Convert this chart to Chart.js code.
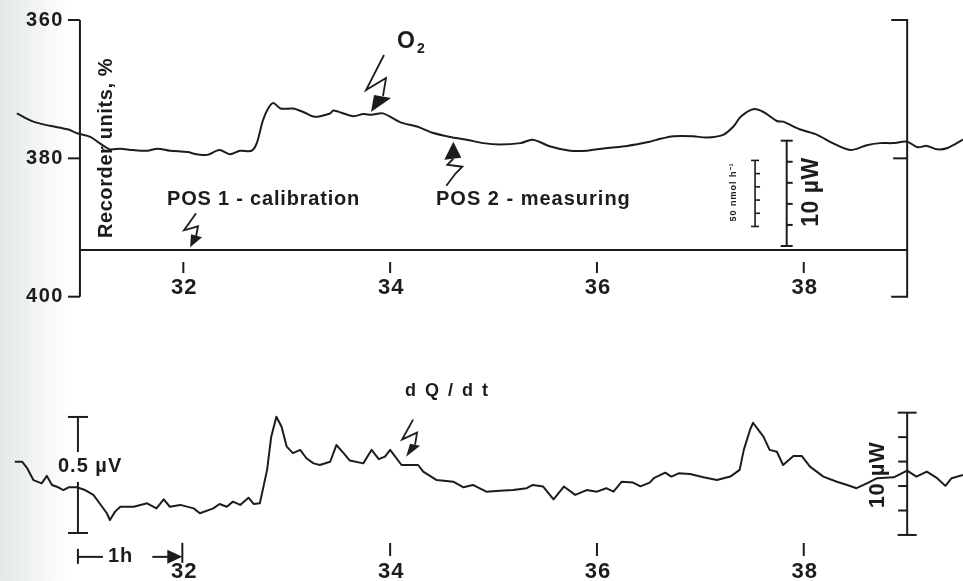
<!DOCTYPE html>
<html>
<head>
<meta charset="utf-8">
<script src="https://cdn.jsdelivr.net/npm/chart.js@4.4.0/dist/chart.umd.min.js"></script>
<style>
  html, body { margin: 0; padding: 0; background: #fff; }
  #wrap {
    position: relative; width: 963px; height: 581px;
    background: linear-gradient(to right, #e2e8e4 0px, #edf1ee 25px, #f8f9f8 52px, #ffffff 75px);
  }
  canvas { display: block; }
</style>
</head>
<body>
<div id="wrap"><canvas id="trace" width="963" height="581"></canvas></div>
<script>
// time axis (h)
const xTicks = [32, 34, 36, 38];
const xTickLabels = ['32', '34', '36', '38'];
// recorder axis of the O2 trace
const recorderTicks = [360, 380, 400];
const recorderTickLabels = ['360', '380', '400'];

// upper trace: O2, recorder units %
const o2Time = [30.39, 30.55, 30.71, 30.88, 30.98, 31.10, 31.19, 31.29, 31.39, 31.51,
  31.65, 31.75, 31.87, 32.04, 32.13, 32.23, 32.35, 32.45, 32.55, 32.66,
  32.71, 32.77, 32.82, 32.87, 32.94, 33.06, 33.16, 33.27, 33.42, 33.45,
  33.64, 33.74, 33.82, 33.93, 34.10, 34.26, 34.41, 34.58, 34.74, 34.90,
  35.06, 35.26, 35.38, 35.55, 35.74, 35.90, 36.10, 36.29, 36.51, 36.58,
  36.74, 36.93, 37.06, 37.22, 37.32, 37.39, 37.51, 37.61, 37.74, 37.80,
  37.96, 38.13, 38.28, 38.45, 38.61, 38.74, 38.86, 39.00, 39.10, 39.19,
  39.29, 39.39, 39.54];
const o2Units = [373.5, 374.7, 375.3, 375.8, 376.4, 376.9, 377.8, 378.7, 378.6, 378.8,
  378.9, 378.6, 378.9, 379.1, 379.4, 379.5, 378.8, 379.4, 378.9, 378.9,
  377.8, 374.5, 372.8, 372.0, 372.8, 372.8, 373.3, 374.0, 373.5, 373.1,
  373.9, 373.6, 373.7, 373.5, 374.8, 375.4, 376.3, 376.9, 377.3, 377.8,
  378.0, 377.8, 377.3, 378.3, 378.9, 378.9, 378.5, 378.2, 377.6, 377.3,
  376.8, 376.8, 377.0, 376.6, 375.4, 374.0, 372.9, 373.3, 374.6, 374.7,
  375.8, 376.6, 377.8, 378.8, 378.1, 377.8, 377.8, 377.6, 378.4, 378.2,
  378.7, 378.5, 377.3];

// lower trace: dQ/dt, µV
const heatTime = [30.37, 30.44, 30.49, 30.55, 30.63, 30.68, 30.73, 30.79, 30.84, 30.89,
  30.97, 31.05, 31.13, 31.19, 31.26, 31.29, 31.34, 31.39, 31.52, 31.65,
  31.74, 31.81, 31.87, 31.97, 32.10, 32.16, 32.29, 32.35, 32.42, 32.48,
  32.55, 32.63, 32.68, 32.74, 32.81, 32.85, 32.90, 32.95, 33.00, 33.06,
  33.13, 33.19, 33.26, 33.32, 33.42, 33.48, 33.55, 33.61, 33.74, 33.82,
  33.89, 33.95, 34.00, 34.11, 34.27, 34.32, 34.45, 34.61, 34.71, 34.80,
  34.93, 35.06, 35.19, 35.32, 35.38, 35.48, 35.58, 35.68, 35.79, 35.90,
  36.00, 36.09, 36.16, 36.24, 36.35, 36.42, 36.51, 36.55, 36.66, 36.72,
  36.79, 36.90, 37.03, 37.16, 37.29, 37.38, 37.42, 37.48, 37.51, 37.55,
  37.61, 37.67, 37.74, 37.80, 37.90, 37.98, 38.06, 38.19, 38.32, 38.42,
  38.51, 38.61, 38.71, 38.87, 39.00, 39.09, 39.19, 39.29, 39.37, 39.43,
  39.54];
const heatVolts = [0.307, 0.307, 0.279, 0.228, 0.214, 0.246, 0.207, 0.197, 0.185, 0.197,
  0.197, 0.185, 0.164, 0.128, 0.085, 0.056, 0.092, 0.113, 0.113, 0.128,
  0.106, 0.145, 0.113, 0.121, 0.106, 0.085, 0.106, 0.125, 0.113, 0.135,
  0.121, 0.152, 0.125, 0.128, 0.272, 0.415, 0.501, 0.458, 0.372, 0.344,
  0.358, 0.322, 0.300, 0.293, 0.307, 0.379, 0.344, 0.312, 0.300, 0.358,
  0.318, 0.329, 0.358, 0.293, 0.293, 0.264, 0.228, 0.221, 0.197, 0.207,
  0.178, 0.182, 0.185, 0.193, 0.207, 0.200, 0.145, 0.200, 0.164, 0.185,
  0.178, 0.193, 0.178, 0.221, 0.217, 0.201, 0.217, 0.236, 0.260, 0.243,
  0.257, 0.254, 0.240, 0.228, 0.243, 0.272, 0.358, 0.444, 0.475, 0.451,
  0.415, 0.358, 0.350, 0.293, 0.332, 0.332, 0.286, 0.243, 0.221, 0.207,
  0.193, 0.214, 0.236, 0.240, 0.269, 0.243, 0.264, 0.236, 0.203, 0.236,
  0.250];

const ink = '#1c1c1c';
const FONT = '"Liberation Sans", Arial, sans-serif';

// draws the frame, ticks, scale bars and the arrow marks
const recorderFrame = {
  id: 'recorderFrame',
  afterDatasetsDraw(chart) {
    const {ctx, scales: {x, yTop, yBot}} = chart;
    const X = t => x.getPixelForValue(t);
    const T = u => yTop.getPixelForValue(u);
    const B = v => yBot.getPixelForValue(v);

    ctx.save();
    ctx.strokeStyle = ink;
    ctx.fillStyle = ink;
    ctx.lineWidth = 2;

    const line = pts => {
      ctx.beginPath();
      pts.forEach(([a, b], i) => i ? ctx.lineTo(a, b) : ctx.moveTo(a, b));
      ctx.stroke();
    };
    const text = (s, px, py, size, align, spacing) => {
      ctx.font = 'bold ' + size + 'px ' + FONT;
      ctx.letterSpacing = spacing || '0px';
      ctx.textAlign = align || 'center';
      ctx.textBaseline = 'middle';
      ctx.fillText(s, px, py);
    };
    const vtext = (s, cx, cy, size, spacing) => {
      ctx.save();
      ctx.translate(cx, cy);
      ctx.rotate(-Math.PI / 2);
      ctx.font = 'bold ' + size + 'px ' + FONT;
      ctx.letterSpacing = spacing || '0px';
      ctx.textAlign = 'center';
      ctx.textBaseline = 'middle';
      ctx.fillText(s, 0, 0);
      ctx.restore();
    };
    const bolt = (tx, ty, path, head) => {
      ctx.lineWidth = 1.8;
      line(path.map(([dx, dy]) => [tx + dx, ty + dy]));
      ctx.beginPath();
      ctx.moveTo(tx, ty);
      ctx.lineTo(tx + head[0][0], ty + head[0][1]);
      ctx.lineTo(tx + head[1][0], ty + head[1][1]);
      ctx.closePath();
      ctx.fill();
      ctx.lineWidth = 2;
    };
    // vertical scale bar with evenly spaced marks
    const scaleBar = (bx, top, bottom, cap, tick, side) => {
      line([[bx, top], [bx, bottom]]);
      line([[bx - cap, top], [bx + cap, top]]);
      line([[bx - cap, bottom], [bx + cap, bottom]]);
      for (let k = 1; k < 5; k++) {
        const yy = top + (bottom - top) * k / 5;
        line([[bx, yy], [bx + side * tick, yy]]);
      }
    };

    // ---- upper panel ----
    const xL = X(31), xR = X(39);
    line([[xL, T(360)], [xL, T(400)]]);
    recorderTicks.forEach((u, i) => {
      line([[xL - 12, T(u)], [xL, T(u)]]);
      text(recorderTickLabels[i], xL - 16, T(u), 20, 'right', '1.5px');
    });
    line([[xR - 16, T(360)], [xR, T(360)], [xR, T(400)], [xR - 16, T(400)]]);
    line([[xR - 14, T(380)], [xR, T(380)]]);

    const yBase = T(393.25);
    line([[xL, yBase], [xR, yBase]]);
    xTicks.forEach((t, i) => {
      line([[X(t), yBase + 12], [X(t), yBase + 23]]);
      text(xTickLabels[i], X(t) + 1, yBase + 38, 22, 'center', '1px');
    });

    vtext('Recorder units, %', 106, 148, 20, '0.6px');
    text('POS 1 - calibration', 167, 199, 20, 'left', '0.8px');
    text('POS 2 - measuring', 436, 199, 20, 'left', '1px');
    // O2 label with subscript
    text('O', 397, 42, 23, 'left');
    text('2', 417, 49, 14, 'left');

    bolt(X(33.815), T(373.3), [[13, -57], [-5, -22], [15, -34], [12, -16]], [[3, -17], [20, -14]]);
    bolt(X(34.611), T(377.6), [[-7, 44], [2, 32], [9, 25], [-6, 23], [0, 17]], [[-9, 18], [8, 16]]);
    bolt(X(32.065), T(392.86), [[6, -34], [-6, -17], [8, -21], [6, -11]], [[1, -13], [12, -10]]);

    // calibration bars, upper panel
    ctx.lineWidth = 1.6;
    scaleBar(X(37.529), T(380.3), T(389.85), 4, 5, 1);
    ctx.lineWidth = 2;
    scaleBar(X(37.835), T(377.45), T(392.67), 6, 6, 1);
    vtext('50 nmol h\u207B\u00B9', X(37.325), 192, 9, '1px');
    vtext('10 \u00B5W', X(38.078), 192, 23, '0.5px');

    // ---- lower panel ----
    const yB0 = B(0);
    xTicks.slice(1).forEach((t, i) => {
      line([[X(t), yB0 + 10], [X(t), yB0 + 23]]);
      text(xTickLabels[i + 1], X(t) + 1, yB0 + 39, 22, 'center', '1px');
    });
    text(xTickLabels[0], X(32) + 1, yB0 + 39, 22, 'center', '1px');

    // 0.5 µV bar
    const bx = xL - 2;
    line([[bx, B(0.5)], [bx, B(0.349)]]);
    line([[bx, B(0.22)], [bx, B(0)]]);
    line([[bx - 10, B(0.5)], [bx + 10, B(0.5)]]);
    line([[bx - 10, B(0)], [bx + 10, B(0)]]);
    text('0.5 \u00B5V', 58, B(0.285), 20, 'left', '1px');

    // 1 h marker
    const yh = B(-0.103);
    line([[bx, yh - 8], [bx, yh + 7]]);
    line([[bx, yh], [bx + 25, yh]]);
    text('1h', 108, yh, 20, 'left', '1px');
    const xe = X(32) - 1;
    line([[xe - 30, yh], [xe - 14, yh]]);
    ctx.beginPath();
    ctx.moveTo(xe - 15, yh - 7);
    ctx.lineTo(xe - 15, yh + 7);
    ctx.lineTo(xe, yh);
    ctx.closePath();
    ctx.fill();
    line([[xe, yh - 14], [xe, yh + 6]]);

    // 10 µW bar, lower panel
    scaleBar(xR, B(0.5185), B(-0.0086), 9.5, 9, -1);
    vtext('10 \u00B5W', 878, 475, 22, '0.5px');

    text('dQ/dt', 405, 391, 18, 'left', '9px');
    bolt(X(34.154), B(0.329), [[7, -37], [-4, -17], [11, -24], [9, -12]], [[4, -13], [14, -11]]);

    ctx.restore();
  }
};

new Chart(document.getElementById('trace'), {
  type: 'line',
  data: {
    datasets: [
      {
        label: 'O2',
        data: o2Time.map((t, i) => ({x: t, y: o2Units[i]})),
        yAxisID: 'yTop',
        borderColor: ink,
        borderWidth: 2,
        pointRadius: 0,
        tension: 0.3,
        borderJoinStyle: 'round'
      },
      {
        label: 'dQ/dt',
        data: heatTime.map((t, i) => ({x: t, y: heatVolts[i]})),
        yAxisID: 'yBot',
        borderColor: ink,
        borderWidth: 2,
        pointRadius: 0,
        tension: 0,
        borderJoinStyle: 'round'
      }
    ]
  },
  options: {
    responsive: false,
    animation: false,
    events: [],
    layout: { padding: 0 },
    plugins: {
      legend: { display: false },
      tooltip: { enabled: false }
    },
    scales: {
      x: { type: 'linear', min: 30.227, max: 39.54, display: false },
      yTop: { type: 'linear', reverse: true, min: 357.11, max: 441.1, display: false },
      yBot: { type: 'linear', min: -0.207, max: 2.297, display: false }
    }
  },
  plugins: [recorderFrame]
});
</script>
</body>
</html>
